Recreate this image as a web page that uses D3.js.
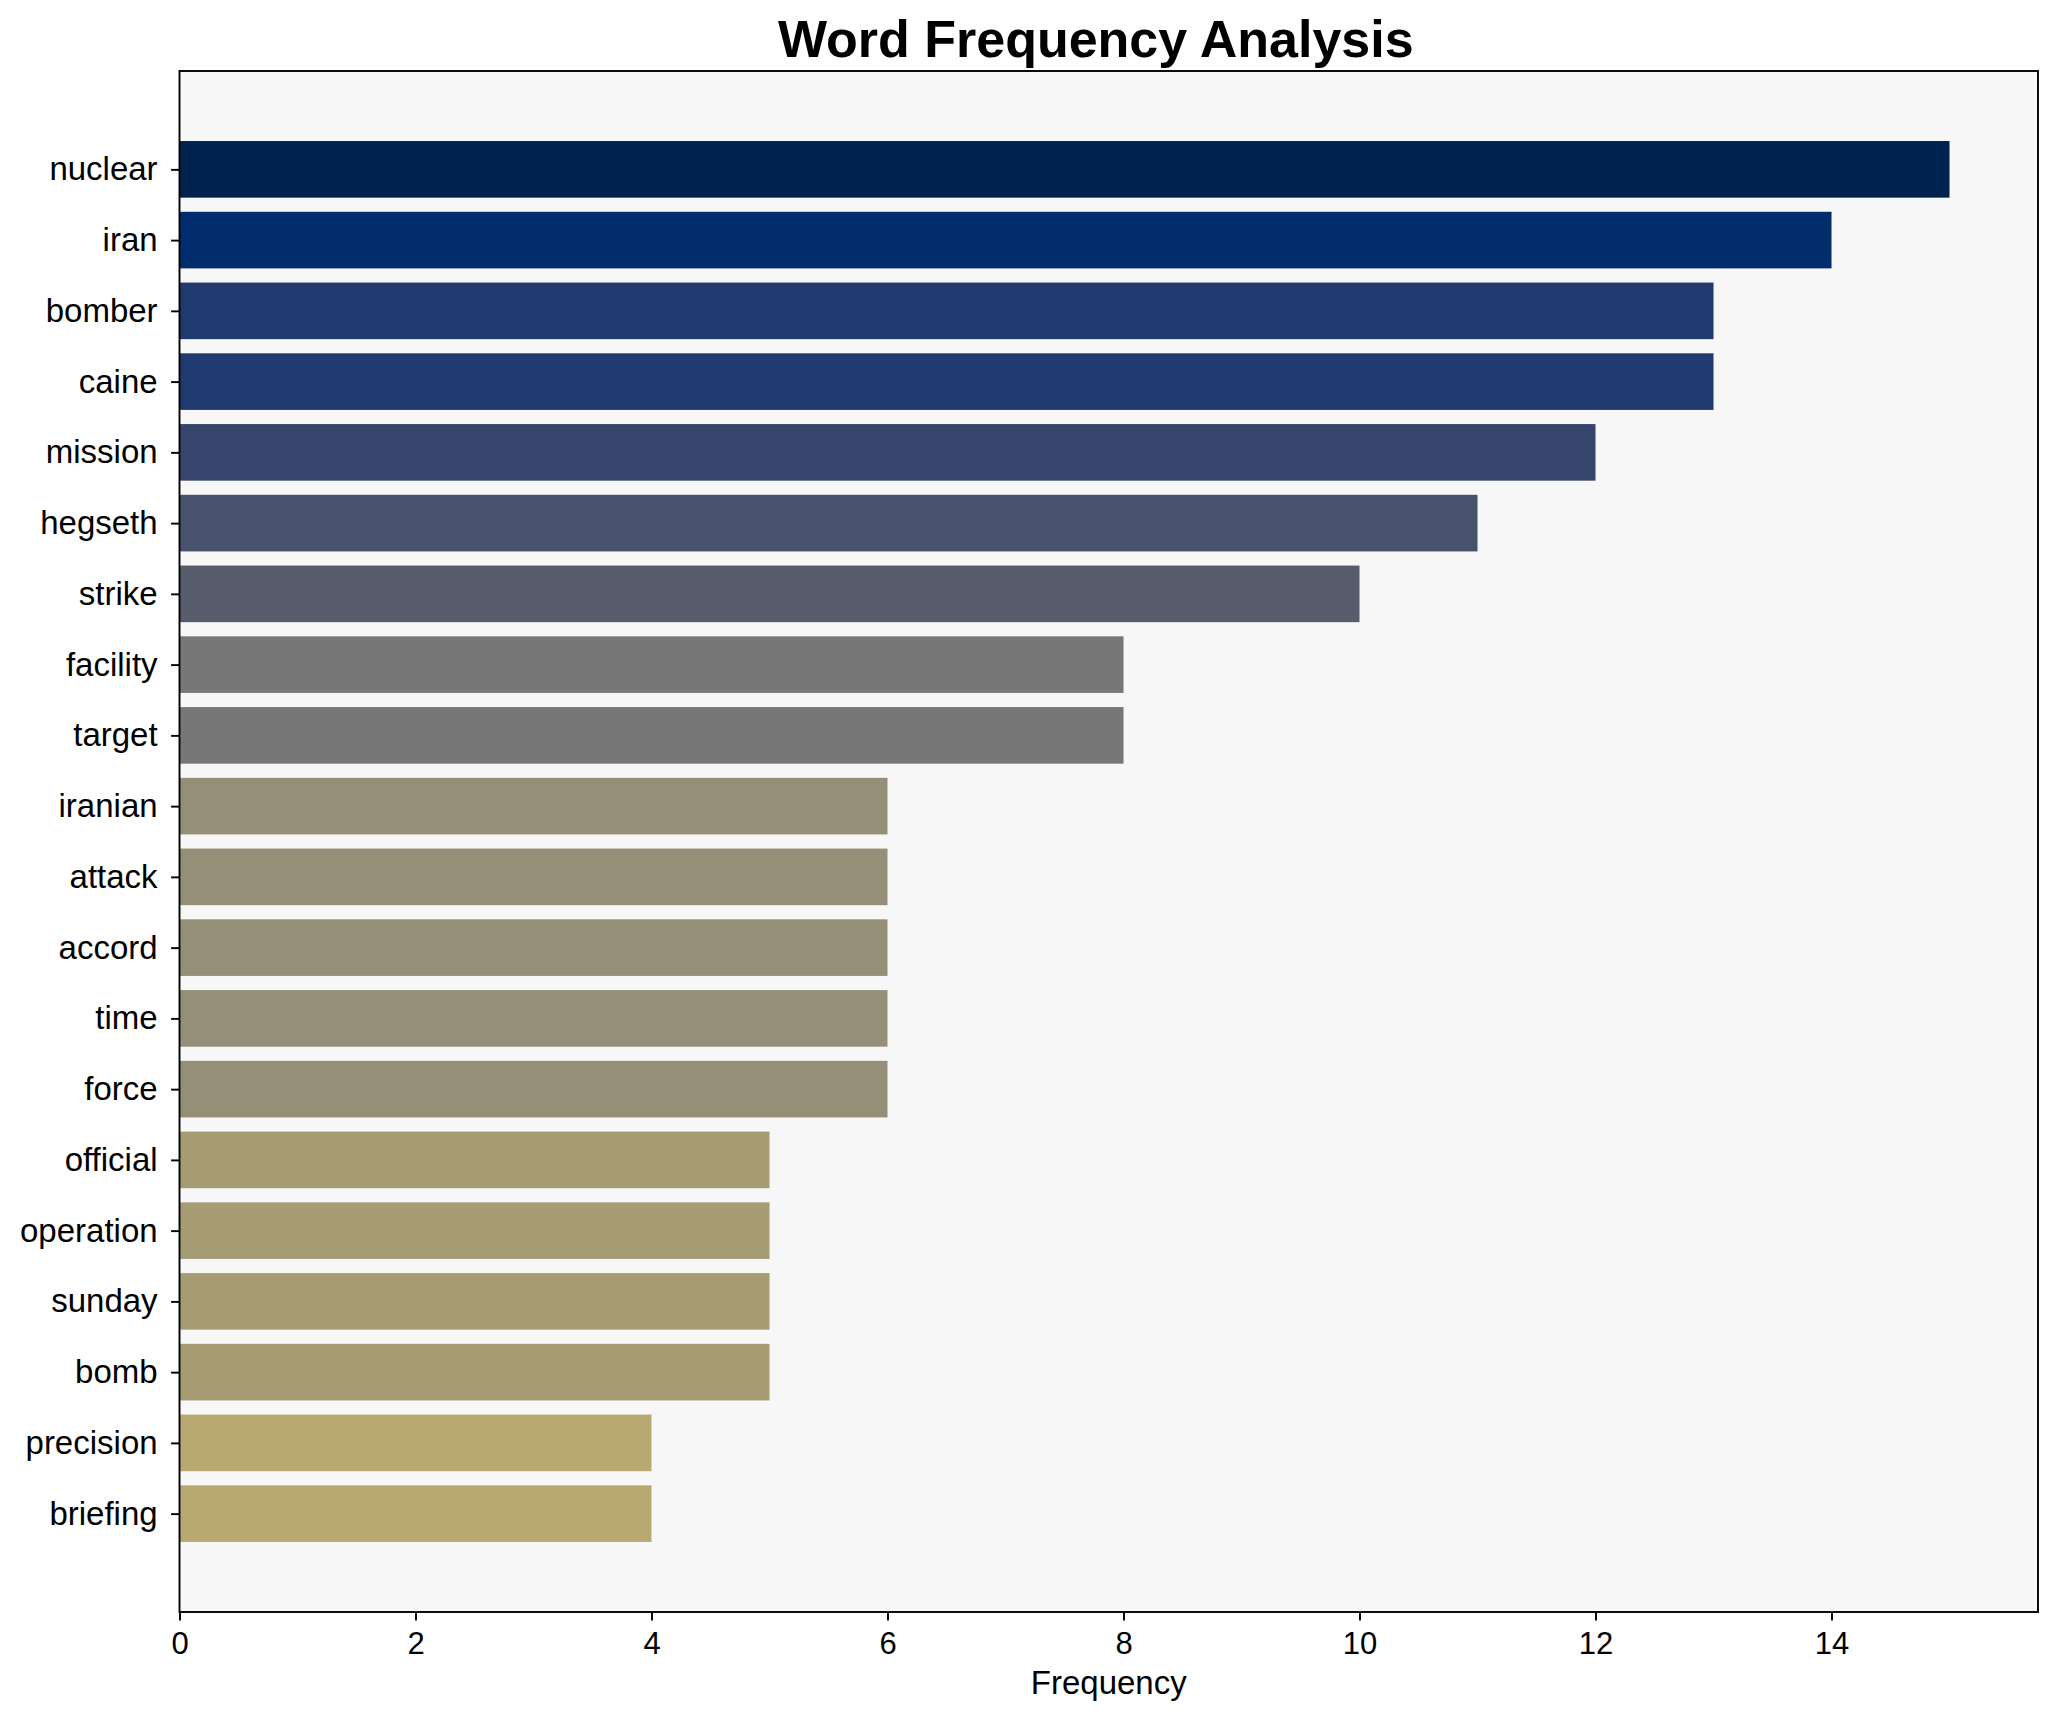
<!DOCTYPE html>
<html>
<head>
<meta charset="utf-8">
<script src="https://cdn.jsdelivr.net/npm/d3@7"></script>
<style>
  html, body { margin: 0; padding: 0; background: #ffffff; }
  svg { display: block; font-family: "Liberation Sans", Arial, sans-serif; }
</style>
</head>
<body>
<svg id="chart" width="2058" height="1722"></svg>
<script>
// ---- data ----
const words = ["nuclear","iran","bomber","caine","mission","hegseth","strike","facility","target","iranian","attack","accord","time","force","official","operation","sunday","bomb","precision","briefing"];
const counts = [15,14,13,13,12,11,10,8,8,6,6,6,6,6,5,5,5,5,4,4];
const xTicks = [0,2,4,6,8,10,12,14];
const titleText = "Word Frequency Analysis";
const xLabel = "Frequency";

// palette keyed by count
const palette = {15:"#00224f",14:"#012d6d",13:"#1f3a6f",12:"#35456b",11:"#48526c",10:"#575d6d",8:"#777777",6:"#958f77",5:"#a59c74",4:"#b7a96f"};

// ---- layout ----
const W = 2058, H = 1722;
const L = 179.5, R = 2038, T = 71, B = 1612;

const svg = d3.select("#chart");
svg.append("rect").attr("width", W).attr("height", H).attr("fill", "#ffffff");

const xMax = d3.max(counts) * 1.05;
const x = d3.scaleLinear().domain([0, xMax]).range([L, R]);
const n = words.length;
const barH = 0.8;
const pad = 0.05 * ((n - 1 + barH/2) - (-barH/2));
const y = d3.scaleLinear().domain([-barH/2 - pad, n - 1 + barH/2 + pad]).range([T, B]);

// axes background
svg.append("rect").attr("x", L).attr("y", T).attr("width", R - L).attr("height", B - T).attr("fill", "#f7f7f7");

// bars
svg.append("g").selectAll("rect").data(words).join("rect")
  .attr("x", x(0))
  .attr("y", (d, i) => y(i - barH/2))
  .attr("width", (d, i) => x(counts[i]) - x(0))
  .attr("height", (d, i) => y(i + barH/2) - y(i - barH/2))
  .attr("fill", (d, i) => palette[counts[i]]);

// x axis
const xAxis = d3.axisBottom(x).tickValues(xTicks).tickSize(8.4).tickPadding(12).tickFormat(d3.format("d"));
const gx = svg.append("g").attr("transform", `translate(0,${B})`).call(xAxis);
gx.select(".domain").remove();
gx.selectAll(".tick line").attr("stroke", "#000").attr("stroke-width", 1.9);
gx.selectAll(".tick text").attr("font-size", 31).attr("fill", "#000").attr("font-family", "Liberation Sans, Arial, sans-serif");

// y axis
const yAxis = d3.axisLeft(y).tickValues(d3.range(n)).tickSize(8.4).tickPadding(13.5).tickFormat(i => words[i]);
const gy = svg.append("g").attr("transform", `translate(${L},0)`).call(yAxis);
gy.select(".domain").remove();
gy.selectAll(".tick line").attr("stroke", "#000").attr("stroke-width", 1.9);
gy.selectAll(".tick text").attr("font-size", 33).attr("fill", "#000").attr("font-family", "Liberation Sans, Arial, sans-serif");

// spines
svg.append("rect").attr("x", L).attr("y", T).attr("width", R - L).attr("height", B - T)
  .attr("fill", "none").attr("stroke", "#000").attr("stroke-width", 1.9);

// title
svg.append("text").attr("x", (L + R) / 2 - 13).attr("y", 57).attr("text-anchor", "middle")
  .attr("font-size", 52).attr("font-weight", "bold").attr("fill", "#000").text(titleText);

// x label
svg.append("text").attr("x", (L + R) / 2).attr("y", 1694).attr("text-anchor", "middle")
  .attr("font-size", 33).attr("fill", "#000").text(xLabel);
</script>
</body>
</html>
